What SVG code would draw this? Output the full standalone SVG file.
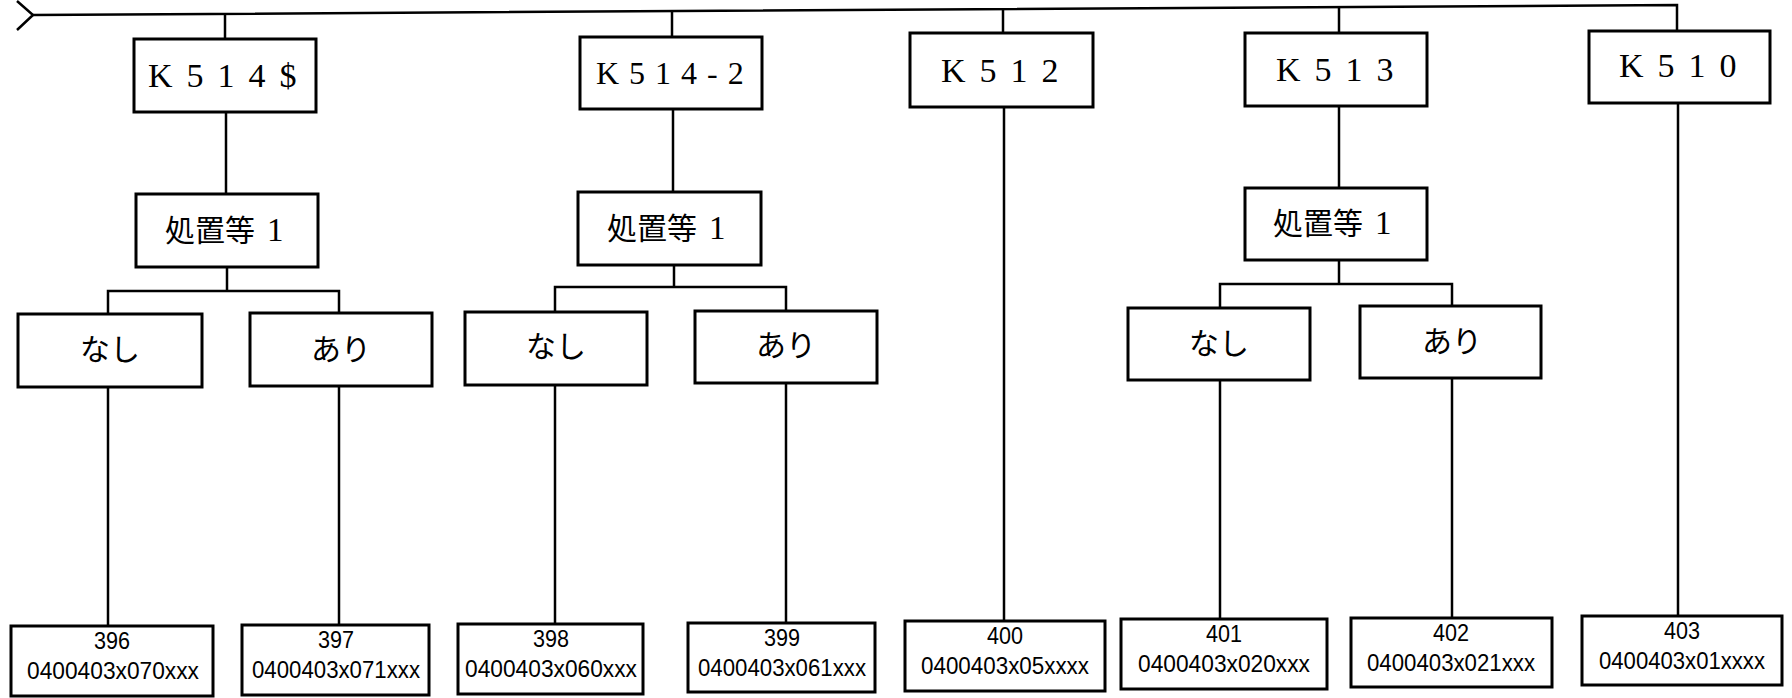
<svg xmlns="http://www.w3.org/2000/svg" width="1792" height="698" viewBox="0 0 1792 698">
<style>
  .bx{fill:#fff;stroke:#000;stroke-width:3}
  .cn{fill:none;stroke:#000;stroke-width:2.5}
  .k{font-family:"Liberation Serif",serif;font-size:34px;letter-spacing:14px;fill:#000}
  .k2{font-family:"Liberation Serif",serif;font-size:32px;letter-spacing:10px;fill:#000}
  .j{font-family:"Noto Sans CJK JP",sans-serif;font-size:30px;fill:#000}
  .one{font-family:"Liberation Serif",serif;font-size:33px}
  .c{font-family:"Liberation Sans",sans-serif;font-size:24px;fill:#000;text-anchor:middle}
</style>
<rect width="1792" height="698" fill="#fff"/>
<g id="connectors">
  <polyline class="cn" points="17,1 33,15 17,30"/>
  <polyline class="cn" points="32,15 1677,5 1677,31"/>
  <line class="cn" x1="225" y1="14" x2="225" y2="39"/>
  <line class="cn" x1="672" y1="12" x2="672" y2="37"/>
  <line class="cn" x1="1003" y1="10" x2="1003" y2="33"/>
  <line class="cn" x1="1339" y1="8" x2="1339" y2="33"/>
  <line class="cn" x1="226" y1="112" x2="226" y2="194"/>
  <line class="cn" x1="673" y1="109" x2="673" y2="192"/>
  <line class="cn" x1="1339" y1="106" x2="1339" y2="188"/>
  <line class="cn" x1="227" y1="267" x2="227" y2="291"/>
  <line class="cn" x1="674" y1="265" x2="674" y2="287"/>
  <line class="cn" x1="1339" y1="260" x2="1339" y2="284"/>
  <polyline class="cn" points="108,314 108,291 339,291 339,313"/>
  <polyline class="cn" points="555,312 555,287 786,287 786,311"/>
  <polyline class="cn" points="1220,308 1220,284 1452,284 1452,306"/>
  <line class="cn" x1="108" y1="387" x2="108" y2="626"/>
  <line class="cn" x1="339" y1="386" x2="339" y2="625"/>
  <line class="cn" x1="555" y1="385" x2="555" y2="624"/>
  <line class="cn" x1="786" y1="383" x2="786" y2="623"/>
  <line class="cn" x1="1004" y1="107" x2="1004" y2="621"/>
  <line class="cn" x1="1220" y1="380" x2="1220" y2="619"/>
  <line class="cn" x1="1452" y1="378" x2="1452" y2="618"/>
  <line class="cn" x1="1678" y1="103" x2="1678" y2="616"/>
</g>
<g id="n-k514s"><rect class="bx" x="134" y="39" width="182" height="73"/><text class="k" x="148" y="87">K514$</text></g>
<g id="n-k514-2"><rect class="bx" x="580" y="37" width="182" height="72"/><text class="k2" x="596" y="84">K514-2</text></g>
<g id="n-k512"><rect class="bx" x="910" y="33" width="183" height="74"/><text class="k" x="941" y="82">K512</text></g>
<g id="n-k513"><rect class="bx" x="1245" y="33" width="182" height="73"/><text class="k" x="1276" y="81">K513</text></g>
<g id="n-k510"><rect class="bx" x="1589" y="31" width="181" height="72"/><text class="k" x="1619" y="77">K510</text></g>

<g id="n-shochi-1"><rect class="bx" x="136" y="194" width="182" height="73"/><text class="j" x="165" y="241">処置等<tspan class="one" dx="12">1</tspan></text></g>
<g id="n-shochi-2"><rect class="bx" x="578" y="192" width="183" height="73"/><text class="j" x="607" y="239">処置等<tspan class="one" dx="12">1</tspan></text></g>
<g id="n-shochi-3"><rect class="bx" x="1245" y="188" width="182" height="72"/><text class="j" x="1273" y="234">処置等<tspan class="one" dx="12">1</tspan></text></g>

<g id="n-nashi-1"><rect class="bx" x="18" y="314" width="184" height="73"/><text class="j" x="80" y="360">なし</text></g>
<g id="n-ari-1"><rect class="bx" x="250" y="313" width="182" height="73"/><text class="j" x="311" y="360">あり</text></g>
<g id="n-nashi-2"><rect class="bx" x="465" y="312" width="182" height="73"/><text class="j" x="526" y="357">なし</text></g>
<g id="n-ari-2"><rect class="bx" x="695" y="311" width="182" height="72"/><text class="j" x="756" y="356">あり</text></g>
<g id="n-nashi-3"><rect class="bx" x="1128" y="308" width="182" height="72"/><text class="j" x="1189" y="354">なし</text></g>
<g id="n-ari-3"><rect class="bx" x="1360" y="306" width="181" height="72"/><text class="j" x="1422" y="352">あり</text></g>

<g id="n-396"><rect class="bx" x="11" y="626" width="202" height="70"/><text class="c" x="112" y="649" textLength="36" lengthAdjust="spacingAndGlyphs">396</text><text class="c" x="113" y="679" textLength="172" lengthAdjust="spacingAndGlyphs">0400403x070xxx</text></g>
<g id="n-397"><rect class="bx" x="242" y="625" width="187" height="70"/><text class="c" x="336" y="648" textLength="36" lengthAdjust="spacingAndGlyphs">397</text><text class="c" x="336" y="678" textLength="168" lengthAdjust="spacingAndGlyphs">0400403x071xxx</text></g>
<g id="n-398"><rect class="bx" x="458" y="624" width="185" height="70"/><text class="c" x="551" y="647" textLength="36" lengthAdjust="spacingAndGlyphs">398</text><text class="c" x="551" y="677" textLength="172" lengthAdjust="spacingAndGlyphs">0400403x060xxx</text></g>
<g id="n-399"><rect class="bx" x="688" y="623" width="187" height="69"/><text class="c" x="782" y="646" textLength="36" lengthAdjust="spacingAndGlyphs">399</text><text class="c" x="782" y="676" textLength="168" lengthAdjust="spacingAndGlyphs">0400403x061xxx</text></g>
<g id="n-400"><rect class="bx" x="905" y="621" width="200" height="70"/><text class="c" x="1005" y="644" textLength="36" lengthAdjust="spacingAndGlyphs">400</text><text class="c" x="1005" y="674" textLength="168" lengthAdjust="spacingAndGlyphs">0400403x05xxxx</text></g>
<g id="n-401"><rect class="bx" x="1121" y="619" width="206" height="70"/><text class="c" x="1224" y="642" textLength="36" lengthAdjust="spacingAndGlyphs">401</text><text class="c" x="1224" y="672" textLength="172" lengthAdjust="spacingAndGlyphs">0400403x020xxx</text></g>
<g id="n-402"><rect class="bx" x="1351" y="618" width="201" height="69"/><text class="c" x="1451" y="641" textLength="36" lengthAdjust="spacingAndGlyphs">402</text><text class="c" x="1451" y="671" textLength="168" lengthAdjust="spacingAndGlyphs">0400403x021xxx</text></g>
<g id="n-403"><rect class="bx" x="1582" y="616" width="200" height="69"/><text class="c" x="1682" y="639" textLength="36" lengthAdjust="spacingAndGlyphs">403</text><text class="c" x="1682" y="669" textLength="166" lengthAdjust="spacingAndGlyphs">0400403x01xxxx</text></g>
</svg>
